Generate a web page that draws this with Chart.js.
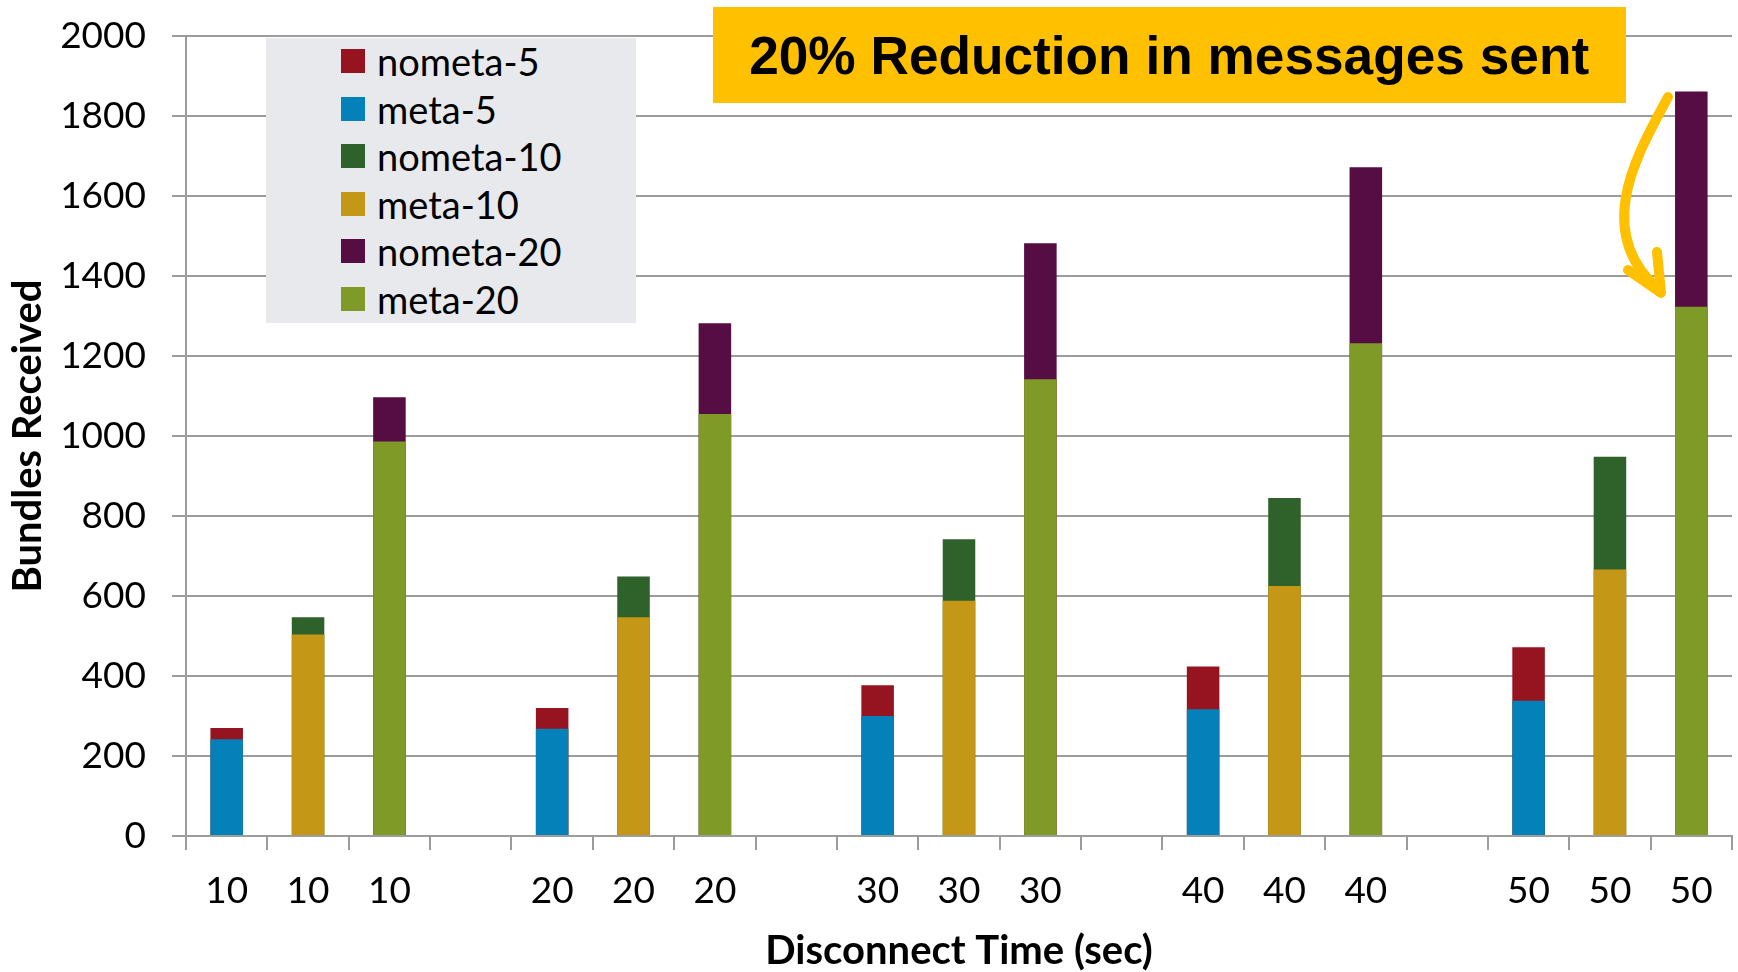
<!DOCTYPE html>
<html>
<head>
<meta charset="utf-8">
<script src="https://cdn.jsdelivr.net/npm/chart.js@4.4.1/dist/chart.umd.min.js"></script>
<style>
  html, body { margin: 0; padding: 0; background: #ffffff; }
  #wrap { position: relative; width: 1738px; height: 972px; overflow: hidden; }
  #chart { position: absolute; left: 0; top: 0; }
  #legend {
    position: absolute; left: 266px; top: 38px; width: 370px; height: 285px;
    background: #e7e9ec;
  }
  .entry { position: absolute; left: 75px; height: 40px; display: flex; align-items: center; }
  .swatch { width: 24px; height: 24px; margin-right: 12px; }
  .entry span { font-family: Lato, "Open Sans", sans-serif; font-size: 38px; color: #000; line-height: 40px; }
  #note {
    position: absolute; left: 713px; top: 7px; width: 913px; height: 96px;
    background: #ffc000; display: flex; align-items: center; justify-content: center;
  }
  #note span {
    font-family: "Liberation Sans Narrow", "Liberation Sans", Arial, sans-serif;
    font-weight: bold; font-size: 54px; color: #000; white-space: nowrap;
    display: inline-block; transform-origin: center center;
  }
</style>
</head>
<body>
<div id="wrap">
  <canvas id="chart" width="1738" height="972"></canvas>
  <div id="legend"></div>
  <div id="note"><span id="noteText">20% Reduction in messages sent</span></div>
</div>
<script>
// Bundles received per disconnect time, with and without metadata
const disconnectTimes = ['10', '20', '30', '40', '50'];
const nometa5  = [270, 320, 377, 424, 472];
const meta5    = [242, 268, 300, 317, 338];
const nometa10 = [547, 649, 742, 845, 948];
const meta10   = [504, 547, 588, 625, 666];
const nometa20 = [1097, 1282, 1482, 1672, 1861];
const meta20   = [986, 1055, 1142, 1232, 1323];
const yTickValues = [0, 200, 400, 600, 800, 1000, 1200, 1400, 1600, 1800, 2000];

// Each disconnect time gets three bar slots (5, 10, 20) followed by an empty slot
const slotsPerGroup = 3;
const categories = [];
disconnectTimes.forEach((t, g) => {
  for (let s = 0; s < slotsPerGroup; s++) categories.push(t);
  if (g < disconnectTimes.length - 1) categories.push('');
});

function placeInSlot(values, slot) {
  const out = categories.map(() => null);
  values.forEach((v, g) => { out[g * (slotsPerGroup + 1) + slot] = v; });
  return out;
}

const series = [
  { label: 'nometa-5',  values: nometa5,  slot: 0, color: '#96141f', front: false },
  { label: 'meta-5',    values: meta5,    slot: 0, color: '#0581ba', front: true },
  { label: 'nometa-10', values: nometa10, slot: 1, color: '#2f622a', front: false },
  { label: 'meta-10',   values: meta10,   slot: 1, color: '#c59716', front: true },
  { label: 'nometa-20', values: nometa20, slot: 2, color: '#550d43', front: false },
  { label: 'meta-20',   values: meta20,   slot: 2, color: '#7f9a27', front: true }
];

// Legend entries
const legend = document.getElementById('legend');
series.forEach((s, i) => {
  const row = document.createElement('div');
  row.className = 'entry';
  row.style.top = (3 + i * 47.6) + 'px';
  const sw = document.createElement('div');
  sw.className = 'swatch';
  sw.style.background = s.color;
  const tx = document.createElement('span');
  tx.textContent = s.label;
  row.appendChild(sw); row.appendChild(tx);
  legend.appendChild(row);
});

// Fit the callout text to its box width
const noteText = document.getElementById('noteText');
const fitNote = () => {
  noteText.style.transform = 'none';
  const w = noteText.getBoundingClientRect().width;
  if (w > 0) noteText.style.transform = 'scaleX(' + (840 / w) + ')';
};

const gridColor = '#9c9c9c';
const tickFont = { family: 'Lato', size: 37 };
const titleFont = { family: 'Lato', size: 40, weight: 'bold', lineHeight: 1.0 };

// Curved callout arrow pointing at the last bar
const arrowPlugin = {
  id: 'calloutArrow',
  afterDraw(chart) {
    const ctx = chart.ctx;
    ctx.save();
    ctx.strokeStyle = '#ffc000';
    ctx.lineWidth = 10;
    ctx.lineCap = 'round';
    ctx.lineJoin = 'round';
    ctx.beginPath();
    ctx.moveTo(1668, 97);
    ctx.bezierCurveTo(1640, 150, 1590, 230, 1659, 290);
    ctx.stroke();
    ctx.beginPath();
    ctx.moveTo(1628, 270);
    ctx.lineTo(1661, 293);
    ctx.lineTo(1657, 252);
    ctx.stroke();
    ctx.restore();
  }
};

new Chart(document.getElementById('chart'), {
  type: 'bar',
  data: {
    labels: categories,
    datasets: series.map(s => ({
      label: s.label,
      data: placeInSlot(s.values, s.slot),
      backgroundColor: s.color,
      borderWidth: 0,
      grouped: false,
      order: s.front ? 0 : 1,
      barPercentage: 0.4,
      categoryPercentage: 1.0
    }))
  },
  options: {
    responsive: false,
    animation: false,
    layout: { padding: { left: 0, right: 6, top: 36, bottom: 0 } },
    plugins: { legend: { display: false }, tooltip: { enabled: false } },
    scales: {
      x: {
        stacked: false,
        grid: { offset: true, drawOnChartArea: false, drawTicks: true, tickLength: 14, color: gridColor, lineWidth: 2 },
        border: { display: true, color: gridColor, width: 2 },
        ticks: { font: tickFont, color: '#000', padding: 19, maxRotation: 0, autoSkip: false },
        title: { display: true, text: 'Disconnect Time (sec)', font: titleFont, color: '#000', padding: { top: 0, bottom: 1 } },
        afterFit(scale) {
          scale.height = 136;
          scale.paddingLeft = 0; scale.paddingRight = 0;
        }
      },
      y: {
        min: yTickValues[0],
        max: yTickValues[yTickValues.length - 1],
        afterBuildTicks(scale) { scale.ticks = yTickValues.map(v => ({ value: v })); },
        grid: { drawTicks: true, tickLength: 14, color: gridColor, lineWidth: 2 },
        border: { display: true, color: gridColor, width: 2 },
        ticks: { font: tickFont, color: '#000', padding: 26, callback: v => String(v) },
        title: { display: true, text: 'Bundles Received', font: titleFont, color: '#000', padding: { top: 8, bottom: 0 } },
        afterFit(scale) {
          scale.width = 186;
          scale.paddingTop = 0; scale.paddingBottom = 0;
        }
      }
    }
  },
  plugins: [arrowPlugin]
});

if (document.fonts && document.fonts.ready) {
  document.fonts.ready.then(fitNote);
}
fitNote();
</script>
</body>
</html>
